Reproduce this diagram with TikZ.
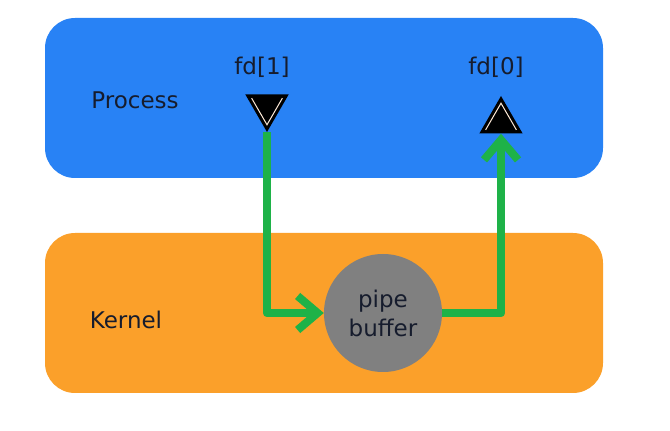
\documentclass[tikz,border=0pt]{standalone}
\usepackage{fontspec}
\setmainfont{DejaVu Sans}
\usetikzlibrary{positioning,shapes.geometric,arrows.meta,calc}

\definecolor{procblue}{RGB}{40,130,245}
\definecolor{kernorange}{RGB}{251,160,42}
\definecolor{pipegreen}{RGB}{30,178,72}
\definecolor{bufgray}{RGB}{128,128,128}
\definecolor{labelink}{RGB}{22,28,45}

\tikzset{
    layer/.style={rounded corners=30pt, minimum width=558pt, minimum height=160pt, inner sep=0pt},
    fdend/.style={regular polygon, regular polygon sides=3, fill=black, minimum size=50pt, inner sep=0pt},
    fdline/.style={draw=white!85!orange, line width=1pt},
    pipeflow/.style={draw=pipegreen, line width=8.5pt, line join=round,
        -{Straight Barb[length=20pt, width=34pt, line width=8pt]}},
}

\begin{document}
\begin{tikzpicture}[x=1pt, y=1pt, node distance=2pt, text=labelink,
    font=\fontsize{23}{26}\selectfont]
    \useasboundingbox (0,0) rectangle (670,431);

    \node (ProcBox) [layer, fill=procblue] at (324,333) {};
    \node (KernBox) [layer, fill=kernorange] at (324,118) {};

    \node (Process) at (135,331) {Process};
    \node (Kernel)  at (126,111) {Kernel};

    \node (fd1) [fdend, shape border rotate=180] at (267,324) {};
    \node (fd0) [fdend] at (501,310) {};
    \node (fd1lbl) at (262,364) {fd[1]};
    \node (fd0lbl) at (496,364) {fd[0]};

    \draw[fdline] ($(fd1.corner 3)!.3!(fd1.center)$) -- ($(fd1.corner 1)!.3!(fd1.center)$) -- ($(fd1.corner 2)!.3!(fd1.center)$);
    \draw[fdline] ($(fd0.corner 2)!.3!(fd0.center)$) -- ($(fd0.corner 1)!.3!(fd0.center)$) -- ($(fd0.corner 3)!.3!(fd0.center)$);

    \node (buf) [circle, fill=bufgray, minimum size=118pt, inner sep=0pt, align=center,
        font=\fontsize{23}{29}\selectfont] at (383,118) {pipe\\buffer};

    \draw[pipeflow] (fd1.corner 1) |- (buf.west);
    \draw[pipeflow] (buf.east) -| (fd0.side 2);
\end{tikzpicture}
\end{document}
